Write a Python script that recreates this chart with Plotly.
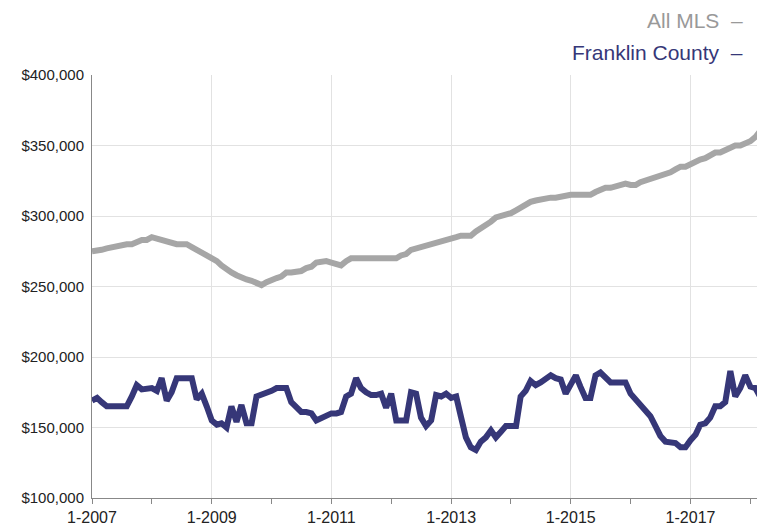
import plotly.graph_objects as go
import pandas as pd

months = pd.date_range("2007-01-01", periods=135, freq="MS").strftime("%Y-%m-%d").tolist()

all_mls = [275, 275, 276, 277, 278, 279, 280, 280, 280, 282, 283, 283,
           285, 284, 283, 283, 282, 280, 280, 280, 278, 276, 275, 273,
           270, 268, 265, 262, 260, 258, 256, 255, 254, 253, 251, 253,
           255, 256, 257, 260, 260, 260, 261, 263, 264, 267, 268, 268,
           267, 266, 265, 268, 270, 270, 270, 270, 270, 270, 270, 270,
           270, 270, 272, 273, 276, 277, 278, 279, 280, 280, 282, 283,
           283, 285, 286, 286, 286, 289, 291, 293, 296, 299, 300, 300,
           302, 304, 306, 308, 310, 311, 312, 313, 313, 313, 314, 315,
           315, 315, 315, 315, 315, 317, 319, 320, 320, 321, 323, 323,
           322, 322, 324, 325, 326, 327, 329, 330, 331, 333, 335, 335,
           337, 339, 340, 341, 343, 345, 345, 347, 349, 350, 350, 351,
           353, 356, 360]

franklin = [169, 171, 168, 165, 165, 165, 164, 165, 172, 180, 177, 177,
            178, 176, 185, 169, 175, 185, 185, 185, 185, 170, 174, 165,
            155, 152, 153, 150, 165, 154, 166, 153, 153, 172, 173, 175,
            176, 178, 178, 178, 168, 165, 161, 161, 160, 155, 157, 159,
            160, 160, 161, 172, 174, 185, 178, 175, 173, 173, 174, 164,
            174, 155, 155, 155, 175, 174, 157, 151, 155, 173, 172, 174,
            171, 172, 158, 143, 136, 134, 140, 143, 148, 143, 147, 151,
            151, 151, 172, 176, 183, 180, 182, 184, 187, 185, 184, 174,
            181, 187, 179, 171, 171, 187, 189, 185, 182, 182, 182, 182,
            174, 170, 165, 162, 158, 151, 144, 140, 140, 139, 136, 136,
            141, 145, 152, 153, 157, 165, 165, 168, 190, 172, 178, 187,
            179, 178, 172]

tick_dates = ["2007-01-01", "2009-01-01", "2011-01-01", "2013-01-01", "2015-01-01", "2017-01-01"]
tick_labels = ["1-2007", "1-2009", "1-2011", "1-2013", "1-2015", "1-2017"]
y_ticks = [100000, 150000, 200000, 250000, 300000, 350000, 400000]
y_labels = ["$100,000", "$150,000", "$200,000", "$250,000", "$300,000", "$350,000", "$400,000"]

GRAY = "#a6a6a6"
NAVY = "#363778"

fig = go.Figure()
fig.add_trace(go.Scatter(x=months, y=[v * 1000 for v in all_mls], mode="lines",
                         line=dict(color=GRAY, width=6), name="All MLS"))
fig.add_trace(go.Scatter(x=months, y=[v * 1000 for v in franklin], mode="lines",
                         line=dict(color=NAVY, width=6), name="Franklin County"))

fig.update_layout(
    width=757, height=519,
    margin=dict(l=84, r=5, t=67, b=29, autoexpand=False),
    paper_bgcolor="white", plot_bgcolor="white",
    showlegend=False,
    font=dict(family="Liberation Sans, Arial, sans-serif", size=13, color="#222"),
    xaxis=dict(
        type="date", range=["2007-01-01", "2018-03-01"],
        tickvals=tick_dates, ticktext=tick_labels,
        showgrid=True, gridcolor="#e2e2e2", gridwidth=1,
        ticks="outside", ticklen=5, tickcolor="#888",
        minor=dict(dtick="M12", tick0="2007-01-01", ticks="outside", ticklen=5,
                   tickcolor="#888", showgrid=False),
        showline=True, linecolor="#888", linewidth=1,
        tickfont=dict(size=16, color="#222"),
        zeroline=False,
    ),
    yaxis=dict(
        range=[100000, 400000],
        tickvals=y_ticks, ticktext=y_labels,
        showgrid=True, gridcolor="#e2e2e2", gridwidth=1,
        showline=True, linecolor="#888", linewidth=1, mirror=True,
        ticks="", ticklabelstandoff=4,
        tickfont=dict(size=15, color="#222"),
        zeroline=False,
    ),
    annotations=[
        dict(text="All MLS  \u2013", xref="paper", yref="paper", x=0.978, y=1.0,
             yshift=55, xanchor="right", yanchor="middle", showarrow=False,
             font=dict(size=21, color="#999999")),
        dict(text="Franklin County  \u2013", xref="paper", yref="paper", x=0.978, y=1.0,
             yshift=23, xanchor="right", yanchor="middle", showarrow=False,
             font=dict(size=21, color=NAVY)),
    ],
)

fig.write_html("out.html")
